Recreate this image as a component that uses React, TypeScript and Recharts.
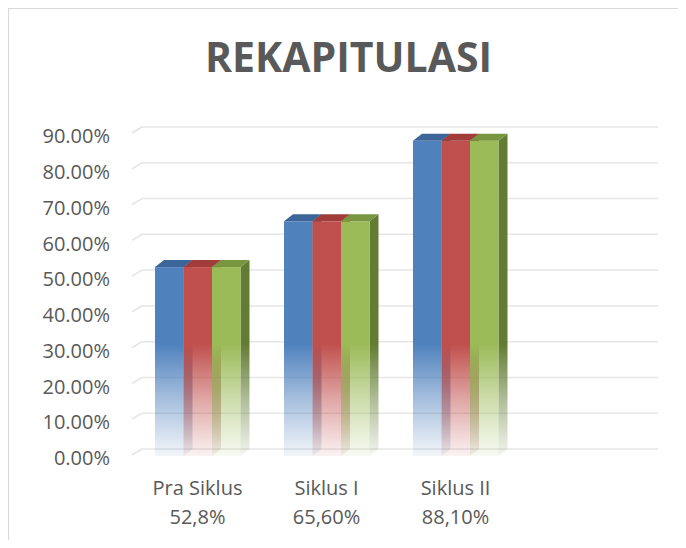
import React from "react";
import { BarChart, Bar, XAxis, YAxis, CartesianGrid } from "recharts";

const categories = ["Pra Siklus", "Siklus I", "Siklus II", ""];
const categoryNotes = ["52,8%", "65,60%", "88,10%", ""];
const seriesBlue = [0.528, 0.656, 0.881, null];
const seriesRed = [0.528, 0.656, 0.881, null];
const seriesGreen = [0.528, 0.656, 0.881, null];
const yTicks = [0, 0.1, 0.2, 0.3, 0.4, 0.5, 0.6, 0.7, 0.8, 0.9];

const data = categories.map((name, i) => ({
    name,
    note: categoryNotes[i],
    blue: seriesBlue[i],
    red: seriesRed[i],
    green: seriesGreen[i],
}));

// depth of the fake 3D: front face sits left/down of the back plane
const DX = 9;
const DY = 7;
const TEXT = "#595959";
const FONT = "'Open Sans', sans-serif";

function bar3D(front: string, top: string, side: string) {
    return (props: any) => {
        const { x, y, width, height } = props;
        if (!height || height <= 0) return null;
        const fx = x - DX;
        const fy = y + DY;
        return (
            <g>
                <polygon
                    points={`${x + width - DX},${fy} ${x + width},${y} ${x + width},${y + height} ${x + width - DX},${fy + height}`}
                    fill={`url(#${side})`}
                />
                <rect x={fx} y={fy} width={width} height={height} fill={`url(#${front})`} />
                <polygon
                    points={`${fx},${fy} ${x},${y} ${x + width},${y} ${fx + width},${fy}`}
                    fill={top}
                />
            </g>
        );
    };
}

function Fade({ id, color }: { id: string; color: string }) {
    return (
        <linearGradient id={id} gradientUnits="userSpaceOnUse" x1="0" y1="335" x2="0" y2="447">
            <stop offset="0" stopColor={color} stopOpacity={1} />
            <stop offset="0.5" stopColor={color} stopOpacity={0.5} />
            <stop offset="1" stopColor={color} stopOpacity={0.07} />
        </linearGradient>
    );
}

const YTick = (props: any) => {
    const { y, payload } = props;
    return (
        <g>
            <line x1={123} y1={y + 6} x2={133} y2={y} stroke="#e3e3e3" strokeWidth={1.5} />
            <text x={101} y={y + 9} dy="0.36em" textAnchor="end" fill={TEXT} fontSize={20} fontFamily={FONT}>
                {(payload.value * 100).toFixed(2) + "%"}
            </text>
        </g>
    );
};

const XTick = (props: any) => {
    const { x, y, index } = props;
    return (
        <text x={x - DX} y={y} textAnchor="middle" fill={TEXT} fontSize={20} fontFamily={FONT}>
            <tspan x={x - DX} dy={46}>{categories[index]}</tspan>
            <tspan x={x - DX} dy={29}>{categoryNotes[index]}</tspan>
        </text>
    );
};

export default function App() {
    return (
        <div
            style={{
                position: "relative",
                width: 669,
                height: 531,
                borderTop: "1px solid #d9d9d9",
                borderLeft: "1px solid #d9d9d9",
                background: "#fff",
                overflow: "hidden",
            }}
        >
            <div
                style={{
                    position: "absolute",
                    top: 27,
                    left: 5,
                    width: 669,
                    textAlign: "center",
                    fontFamily: FONT,
                    fontWeight: 700,
                    fontSize: 41,
                    lineHeight: 1,
                    color: TEXT,
                }}
            >
                REKAPITULASI
            </div>
            <BarChart
                width={669}
                height={531}
                data={data}
                margin={{ top: 118, right: 20, left: 0, bottom: 0 }}
                barGap={0}
                barSize={28.5}
            >
                <defs>
                    <Fade id="blueFront" color="#4f81bd" />
                    <Fade id="blueSide" color="#3a6396" />
                    <Fade id="redFront" color="#c0504d" />
                    <Fade id="redSide" color="#8f3634" />
                    <Fade id="greenFront" color="#9bbb59" />
                    <Fade id="greenSide" color="#637c33" />
                </defs>
                <CartesianGrid vertical={false} stroke="#e6e6e6" strokeWidth={1.5} />
                <XAxis
                    dataKey="name"
                    axisLine={false}
                    tickLine={false}
                    tickSize={0}
                    tickMargin={0}
                    height={91}
                    interval={0}
                    tick={<XTick />}
                />
                <YAxis
                    domain={[0, 0.9]}
                    ticks={yTicks}
                    width={133}
                    axisLine={false}
                    tickLine={false}
                    tick={<YTick />}
                />
                <Bar dataKey="blue" isAnimationActive={false} shape={bar3D("blueFront", "#3c6699", "blueSide")} />
                <Bar dataKey="red" isAnimationActive={false} shape={bar3D("redFront", "#a13c39", "redSide")} />
                <Bar dataKey="green" isAnimationActive={false} shape={bar3D("greenFront", "#78953f", "greenSide")} />
            </BarChart>
        </div>
    );
}
